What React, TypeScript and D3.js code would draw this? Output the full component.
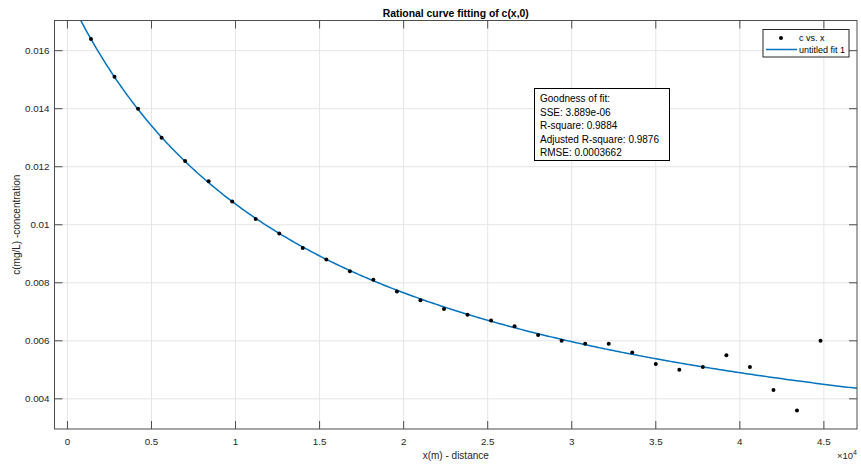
import React from "react";
import * as d3 from "d3";

// measured samples: distance (m) and concentration (mg/L)
const distance = [
  1400, 2800, 4200, 5600, 7000, 8400, 9800, 11200, 12600, 14000, 15400, 16800,
  18200, 19600, 21000, 22400, 23800, 25200, 26600, 28000, 29400, 30800, 32200,
  33600, 35000, 36400, 37800, 39200, 40600, 42000, 43400, 44800,
];
const concentration = [
  0.0164, 0.0151, 0.014, 0.013, 0.0122, 0.0115, 0.0108, 0.0102, 0.0097, 0.0092,
  0.0088, 0.0084, 0.0081, 0.0077, 0.0074, 0.0071, 0.0069, 0.0067, 0.0065,
  0.0062, 0.006, 0.0059, 0.0059, 0.0056, 0.0052, 0.005, 0.0051, 0.0055, 0.0051,
  0.0043, 0.0036, 0.006,
];

// rational fit (p1*x + p2) / (x + q1)
const fitP1 = 0.000136;
const fitP2 = 262.14;
const fitQ1 = 14596;

const xTicks = [0, 5000, 10000, 15000, 20000, 25000, 30000, 35000, 40000, 45000];
const yTicks = [0.004, 0.006, 0.008, 0.01, 0.012, 0.014, 0.016];
const gofLines = [
  "Goodness of fit:",
  "SSE: 3.889e-06",
  "R-square: 0.9884",
  "Adjusted R-square: 0.9876",
  "RMSE: 0.0003662",
];
const legendLabels = ["c vs. x", "untitled fit 1"];

const W = 861;
const H = 468;
const margin = { top: 20.5, right: 4, bottom: 39, left: 54.5 };
const FONT = "'Liberation Sans', Arial, Helvetica, sans-serif";
const AXIS = "#4d4d4d";
const BLUE = "#0072BD";

const App = () => {
  const x0 = margin.left;
  const x1 = W - margin.right;
  const y0 = margin.top;
  const y1 = H - margin.bottom;

  const x = d3.scaleLinear().domain([-770, 46970]).range([x0, x1]);
  const y = d3.scaleLinear().domain([0.00296, 0.01704]).range([y1, y0]);

  const fit = (v: number) => (fitP1 * v + fitP2) / (v + fitQ1);
  const curveX = d3.range(0, 401).map((i) => -770 + (i * (46970 + 770)) / 400);
  const line = d3
    .line<number>()
    .x((d) => x(d))
    .y((d) => y(fit(d)));

  const tickLen = 8;
  const fmtY = (v: number) => String(+v.toFixed(3));

  return (
    <svg
      width={W}
      height={H}
      style={{ position: "absolute", left: 0, top: 0, background: "#fff" }}
      fontFamily={FONT}
    >
      <defs>
        <clipPath id="plotClip">
          <rect x={x0} y={y0} width={x1 - x0} height={y1 - y0} />
        </clipPath>
      </defs>
      <rect x={x0} y={y0} width={x1 - x0} height={y1 - y0} fill="#fff" />
      {/* grid */}
      {xTicks.map((t) => (
        <line key={"gx" + t} x1={x(t)} x2={x(t)} y1={y0} y2={y1} stroke="#e5e5e5" />
      ))}
      {yTicks.map((t) => (
        <line key={"gy" + t} x1={x0} x2={x1} y1={y(t)} y2={y(t)} stroke="#e5e5e5" />
      ))}

      {/* data + fit */}
      <g clipPath="url(#plotClip)">
        <path d={line(curveX) || ""} fill="none" stroke={BLUE} strokeWidth={1.5} />
        {distance.map((d, i) => (
          <circle key={"p" + i} cx={x(d)} cy={y(concentration[i])} r={2} fill="#000" />
        ))}
      </g>

      {/* box + ticks */}
      <rect x={x0} y={y0} width={x1 - x0} height={y1 - y0} fill="none" stroke={AXIS} />
      {xTicks.map((t) => (
        <g key={"tx" + t}>
          <line x1={x(t)} x2={x(t)} y1={y1} y2={y1 - tickLen} stroke={AXIS} />
          <line x1={x(t)} x2={x(t)} y1={y0} y2={y0 + tickLen} stroke={AXIS} />
          <text x={x(t)} y={445} fontSize={9.8} fill="#262626" textAnchor="middle">
            {String(t / 10000)}
          </text>
        </g>
      ))}
      {yTicks.map((t) => (
        <g key={"ty" + t}>
          <line x1={x0} x2={x0 + tickLen} y1={y(t)} y2={y(t)} stroke={AXIS} />
          <line x1={x1} x2={x1 - tickLen} y1={y(t)} y2={y(t)} stroke={AXIS} />
          <text x={49.5} y={y(t) + 3.5} fontSize={9.8} fill="#262626" textAnchor="end">
            {fmtY(t)}
          </text>
        </g>
      ))}
      <text x={x1} y={459} fontSize={9.5} fill="#262626" textAnchor="end">
        ×10<tspan fontSize={7} dy={-4}>4</tspan>
      </text>

      {/* labels */}
      <text x={(x0 + x1) / 2} y={16.5} fontSize={10.4} fontWeight="bold" textAnchor="middle" fill="#000">
        Rational curve fitting of c(x,0)
      </text>
      <text x={(x0 + x1) / 2} y={459} fontSize={10} textAnchor="middle" fill="#262626">
        x(m) - distance
      </text>
      <text
        transform={`translate(20,${(y0 + y1) / 2}) rotate(-90)`}
        fontSize={10}
        textAnchor="middle"
        fill="#262626"
      >
        c(mg/L) -concentration
      </text>

      {/* legend */}
      <g>
        <rect x={763} y={29.5} width={86} height={27.5} fill="#fff" stroke="#262626" />
        <circle cx={781} cy={38} r={2} fill="#000" />
        <text x={799} y={41} fontSize={9}>{legendLabels[0]}</text>
        <line x1={766} x2={797} y1={49.5} y2={49.5} stroke={BLUE} strokeWidth={1.5} />
        <text x={799} y={52.5} fontSize={9}>{legendLabels[1]}</text>
      </g>

      {/* goodness of fit annotation */}
      <g>
        <rect x={534.5} y={88.5} width={135} height={72} fill="#fff" stroke="#000" />
        {gofLines.map((s, i) => (
          <text key={s} x={540} y={102 + i * 13.6} fontSize={10} fill="#000">
            {s}
          </text>
        ))}
      </g>
    </svg>
  );
};

export default App;
